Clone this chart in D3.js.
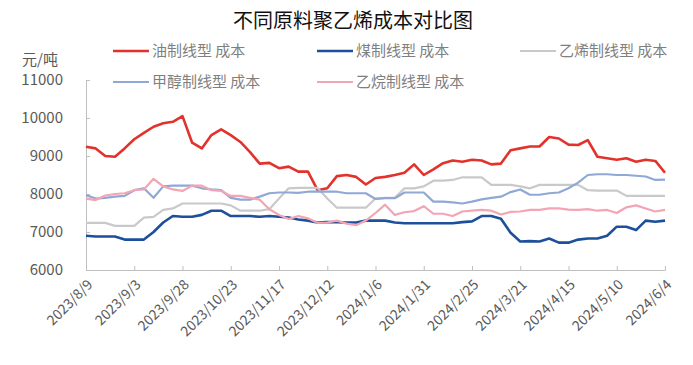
<!DOCTYPE html>
<html>
<head>
<meta charset="utf-8">
<script src="https://cdn.jsdelivr.net/npm/d3@7"></script>
<style>
  html, body { margin: 0; padding: 0; background: #fff; }
  svg { display: block; }
  text { font-family: "Noto Sans CJK SC", "Noto Sans", sans-serif; }
</style>
</head>
<body>
<div id="chart"></div>
<script>
// ---------- data ----------
const startDate = "2023-08-09";
const endDate = "2024-06-04";
const stepDays = 5; // one sample every 5 days

const tickLabels = ["2023/8/9","2023/9/3","2023/9/28","2023/10/23","2023/11/17","2023/12/12",
  "2024/1/6","2024/1/31","2024/2/25","2024/3/21","2024/4/15","2024/5/10","2024/6/4"];
const yTicks = [6000, 7000, 8000, 9000, 10000, 11000];

const seriesNames = ["油制线型 成本","煤制线型 成本","乙烯制线型 成本","甲醇制线型 成本","乙烷制线型 成本"];

const oilCost = [9245,9200,9000,8980,9200,9440,9610,9770,9860,9900,10050,9350,9200,9550,9700,9550,
  9370,9100,8800,8820,8680,8720,8590,8590,8100,8150,8470,8500,8450,8250,8420,8450,8500,8560,8780,
  8500,8650,8810,8880,8850,8900,8880,8780,8800,9150,9200,9250,9250,9500,9460,9300,9290,9420,8980,
  8940,8900,8940,8850,8900,8870,8560];
const coalCost = [6900,6880,6880,6880,6800,6800,6800,7000,7250,7420,7400,7400,7450,7560,7560,7420,
  7420,7420,7400,7420,7400,7380,7330,7300,7250,7260,7260,7250,7250,7300,7300,7300,7250,7230,7230,
  7230,7230,7230,7230,7260,7280,7420,7420,7350,6980,6750,6760,6750,6830,6720,6720,6800,6830,6830,
  6900,7140,7140,7050,7300,7270,7300];
const ethyleneCost = [7240,7240,7240,7160,7160,7160,7380,7400,7580,7620,7750,7750,7750,7750,7750,7700,
  7560,7560,7560,7600,7880,8150,8160,8160,8160,7880,7640,7640,7640,7640,7880,7900,7900,8150,8150,
  8200,8350,8350,8370,8440,8440,8440,8240,8240,8240,8200,8150,8240,8240,8240,8240,8240,8100,8090,
  8090,8090,7950,7950,7950,7950,7950];
const methanolCost = [7970,7880,7900,7930,7950,8100,8150,7900,8200,8220,8220,8220,8150,8120,8100,7900,
  7850,7850,7930,8020,8040,8040,8030,8060,8060,8060,8060,8020,8020,8020,7870,7890,7890,8040,8040,
  8040,7800,7800,7780,7750,7800,7860,7900,7930,8050,8120,7980,7980,8020,8040,8150,8300,8500,8520,
  8520,8500,8500,8480,8460,8370,8380];
const ethaneCost = [7880,7840,7960,8000,8020,8100,8120,8400,8200,8120,8080,8220,8220,8100,8080,7950,
  7950,7900,7850,7600,7450,7340,7420,7360,7240,7250,7300,7220,7180,7300,7500,7720,7450,7520,7550,
  7680,7480,7480,7420,7540,7560,7580,7560,7460,7530,7540,7580,7580,7620,7620,7590,7580,7600,7560,
  7580,7500,7650,7700,7620,7540,7580];

const seriesValues = [oilCost, coalCost, ethyleneCost, methanolCost, ethaneCost];
const colors = ["#e2322b", "#1d4f9a", "#c9c9c9", "#8fa8d6", "#f3a5b3"];
const widths = [2.6, 2.6, 2.2, 2.2, 2.2];

// ---------- chart ----------
const W = 693, H = 365;
const margin = {left: 86, right: 28, top: 80, bottom: 95};
const parse = d3.timeParse("%Y-%m-%d");
const parseTick = d3.timeParse("%Y/%m/%d");
const t0 = parse(startDate), t1 = parse(endDate);
const dates = d3.timeDay.range(t0, d3.timeDay.offset(t1, 1), stepDays);

const svg = d3.select("#chart").append("svg").attr("width", W).attr("height", H);

const x = d3.scaleTime().domain([t0, t1]).range([margin.left, W - margin.right]);
const y = d3.scaleLinear().domain([6000, 11000]).range([H - margin.bottom, margin.top]);

// title
svg.append("text").attr("x", 353).attr("y", 28).attr("text-anchor", "middle")
  .attr("font-size", 20).attr("fill", "#111").text("不同原料聚乙烯成本对比图");

// unit label
svg.append("text").attr("x", 40).attr("y", 65).attr("text-anchor", "middle")
  .attr("font-size", 15).attr("fill", "#595959").text("元/吨");

// y axis
const yAxis = svg.append("g").attr("transform", `translate(${margin.left},0)`)
  .call(d3.axisRight(y).tickValues(yTicks).tickSize(4).tickFormat(""));
yAxis.select(".domain").attr("stroke", "#bfbfbf");
yAxis.selectAll(".tick line").attr("stroke", "#bfbfbf");
svg.append("g").selectAll("text").data(yTicks).join("text")
  .attr("x", 63).attr("y", d => y(d)).attr("dy", "0.35em").attr("text-anchor", "end")
  .attr("font-size", 15).attr("fill", "#595959").text(d => d);

// x axis
const tickDates = tickLabels.map(parseTick);
const xAxis = svg.append("g").attr("transform", `translate(0,${H - margin.bottom})`)
  .call(d3.axisTop(x).tickValues(tickDates).tickSize(4).tickFormat("").tickSizeOuter(0));
xAxis.select(".domain").attr("stroke", "#bfbfbf");
xAxis.selectAll(".tick line").attr("stroke", "#bfbfbf");
svg.append("g").selectAll("text").data(tickLabels).join("text")
  .attr("transform", (d, i) => `translate(${x(tickDates[i]) + 4},${H - margin.bottom + 12}) rotate(-45)`)
  .attr("dy", "0.35em").attr("text-anchor", "end")
  .attr("font-size", 14).attr("fill", "#595959").text(d => d);

// lines
const line = d3.line().x((d, i) => x(dates[i])).y(d => y(d)).curve(d3.curveLinear);
seriesValues.forEach((vals, k) => {
  svg.append("path").datum(vals).attr("fill", "none")
    .attr("stroke", colors[k]).attr("stroke-width", widths[k])
    .attr("stroke-linejoin", "round").attr("d", line);
});

// legend
const legendPos = [[113, 51], [317, 51], [520, 51], [113, 82], [317, 82]];
seriesNames.forEach((name, k) => {
  const [lx, ly] = legendPos[k];
  svg.append("line").attr("x1", lx).attr("x2", lx + 36).attr("y1", ly).attr("y2", ly)
    .attr("stroke", colors[k]).attr("stroke-width", widths[k]);
  svg.append("text").attr("x", lx + 39).attr("y", ly).attr("dy", "0.35em")
    .attr("font-size", 15).attr("fill", "#7f7f7f").text(name);
});
</script>
</body>
</html>
